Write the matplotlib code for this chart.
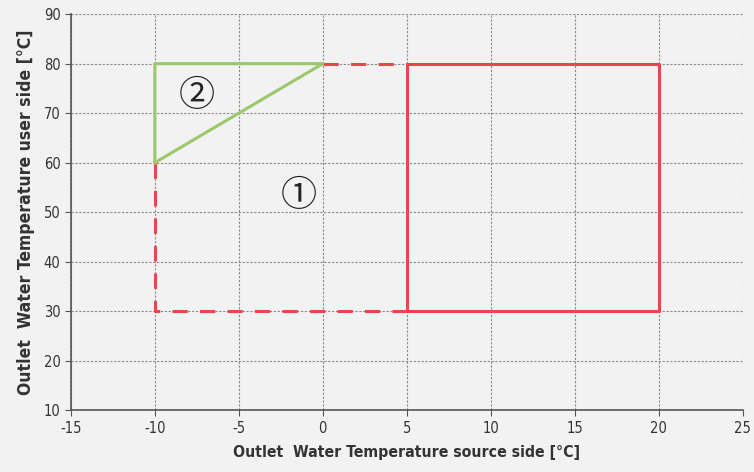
import numpy as np
from matplotlib import pyplot as plt

# operating envelope corners (source temp, user temp)
red_solid_x = [5, 20, 20, 5, 5]
red_solid_y = [30, 30, 80, 80, 30]
red_dash_top_x = [0, 5]
red_dash_top_y = [80, 80]
red_dash_side_x = [-10, -10, 5]
red_dash_side_y = [60, 30, 30]
green_x = [-10, -10, 0, -10]
green_y = [60, 80, 80, 60]

label_text = ['\u2460', '\u2461']
label_x = [-1.4, -7.5]
label_y = [53.2, 73.4]

x_ticks = np.arange(-15, 26, 5)
y_ticks = np.arange(10, 91, 10)

plt.rcParams['axes.unicode_minus'] = False

bg = '#f2f2f2'
red = '#e8474f'
green = '#9bc86a'

fig = plt.figure(figsize=(7.54, 4.72), dpi=100, facecolor=bg)
ax = fig.add_axes([0.094, 0.131, 0.891, 0.839], facecolor=bg)

ax.plot(red_solid_x, red_solid_y, color=red, lw=2.2, solid_capstyle='butt')
ax.plot(red_dash_top_x, red_dash_top_y, color=red, lw=2.2, dashes=(5, 4))
ax.plot(red_dash_side_x, red_dash_side_y, color=red, lw=2.2, dashes=(5, 4))
ax.plot(green_x, green_y, color=green, lw=2.2)

for t, x, y in zip(label_text, label_x, label_y):
    ax.text(x, y, t, fontsize=26, ha='center', va='center', color='#222222',
            family=['Noto Sans CJK JP', 'DejaVu Sans'])

ax.set_xlim(-15, 25)
ax.set_ylim(10, 90)
ax.set_xticks(x_ticks)
ax.set_yticks(y_ticks)
ax.grid(True, color='#888888', lw=0.8, ls=(0, (2, 1.5)))
ax.set_axisbelow(True)
for s in ['top', 'right']:
    ax.spines[s].set_visible(False)
for s in ['left', 'bottom']:
    ax.spines[s].set_color('#555555')
    ax.spines[s].set_linewidth(1.2)
ax.tick_params(length=4, color='#555555', labelsize=10.5, labelcolor='#333333')
for lbl in ax.get_xticklabels() + ax.get_yticklabels():
    lbl.set_fontstretch('condensed')

ax.set_xlabel('Outlet  Water Temperature source side [°C]', fontsize=11.3,
              fontweight='bold', fontstretch='condensed', color='#333333',
              labelpad=7)
ax.set_ylabel('Outlet  Water Temperature user side [°C]', fontsize=12.6,
              fontweight='bold', fontstretch='condensed', color='#333333',
              labelpad=6)

plt.savefig('out.png', dpi=100, facecolor=bg)
